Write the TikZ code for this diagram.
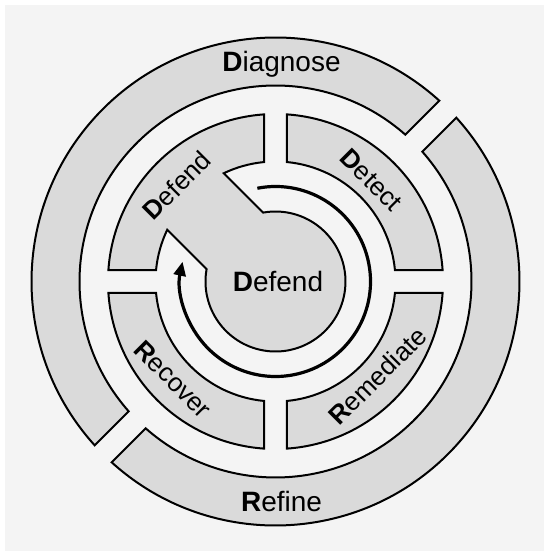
\documentclass[tikz,border=0pt]{standalone}
\usepackage{fontspec}
\setmainfont{Liberation Sans}
\usetikzlibrary{arrows.meta}
\definecolor{bgc}{RGB}{244,244,244}
\definecolor{segc}{RGB}{218,218,218}
\begin{document}
\begin{tikzpicture}[
  seg/.style={draw=black, line width=2pt, fill=segc, line join=miter},
  lab/.style={font=\fontsize{26}{28}\selectfont, inner sep=0pt},
  big/.style={font=\fontsize{28}{30}\selectfont, inner sep=0pt},
  arrowline/.style={line width=3.2pt, -{Triangle[length=14pt,width=12pt]}}
]
\useasboundingbox (-275.5pt,-269.5pt) rectangle (272.5pt,281.5pt);
\fill[white] (-275.5pt,-269.5pt) rectangle (272.5pt,281.5pt);
\fill[bgc] (-270.5pt,-269.5pt) rectangle (268.5pt,276.5pt);

\pgfmathsetmacro\aO{asin(11.5/167.5)}
\pgfmathsetmacro\aI{asin(11.5/120)}
\pgfmathsetmacro\bO{asin(12/244)}
\pgfmathsetmacro\bI{asin(12/196)}
\pgfmathsetmacro\tA{45+acos(-40/120)}
\pgfmathsetmacro\tB{45+acos(-40/70)}
\pgfmathsetmacro\tC{45+acos(40/70)+360}
\pgfmathsetmacro\tD{45+acos(40/120)}

% outer ring
\draw[seg] ({45+\bO}:244pt) arc[start angle={45+\bO}, end angle={225-\bO}, radius=244pt]
  -- ({225-\bI}:196pt) arc[start angle={225-\bI}, end angle={45+\bI}, radius=196pt] -- cycle;
\draw[seg] ({225+\bO}:244pt) arc[start angle={225+\bO}, end angle={405-\bO}, radius=244pt]
  -- ({405-\bI}:196pt) arc[start angle={405-\bI}, end angle={225+\bI}, radius=196pt] -- cycle;

% quadrants
\draw[seg] ({90-\aO}:167.5pt) arc[start angle={90-\aO}, end angle={\aO}, radius=167.5pt]
  -- (\aI:120pt) arc[start angle={\aI}, end angle={90-\aI}, radius=120pt] -- cycle;
\draw[seg] ({-\aO}:167.5pt) arc[start angle={-\aO}, end angle={\aO-90}, radius=167.5pt]
  -- ({\aI-90}:120pt) arc[start angle={\aI-90}, end angle={-\aI}, radius=120pt] -- cycle;
\draw[seg] ({180+\aO}:167.5pt) arc[start angle={180+\aO}, end angle={270-\aO}, radius=167.5pt]
  -- ({270-\aI}:120pt) arc[start angle={270-\aI}, end angle={180+\aI}, radius=120pt] -- cycle;

% defend quadrant + centre disc
\draw[seg] ({90+\aO}:167.5pt) arc[start angle={90+\aO}, end angle={180-\aO}, radius=167.5pt]
  -- ({180-\aI}:120pt) arc[start angle={180-\aI}, end angle={\tA}, radius=120pt]
  -- (\tB:70pt) arc[start angle={\tB}, end angle={\tC}, radius=70pt]
  -- (\tD:120pt) arc[start angle={\tD}, end angle={90+\aI}, radius=120pt] -- cycle;

% cycle arrow
\draw[arrowline] (101:95pt) arc[start angle=101, end angle=-192, radius=95pt];

% labels
\node[big, anchor=base] (diag) at (6pt,209.8pt) {\textbf{D}iagnose};
\node[big, anchor=base] (refi) at (6pt,-230.2pt) {\textbf{R}efine};
\node[big, anchor=base] (cent) at (2.5pt,-10.2pt) {\textbf{D}efend};
\node[lab, rotate=45] (defq) at (-98.9pt,96.2pt) {\textbf{D}efend};
\node[lab, rotate=-45] (detq) at (96pt,101.5pt) {\textbf{D}etect};
\node[lab, rotate=45] (remq) at (102.1pt,-94.4pt) {\textbf{R}emediate};
\node[lab, rotate=-45] (recq) at (-102.4pt,-97.9pt) {\textbf{R}ecover};
\end{tikzpicture}
\end{document}
